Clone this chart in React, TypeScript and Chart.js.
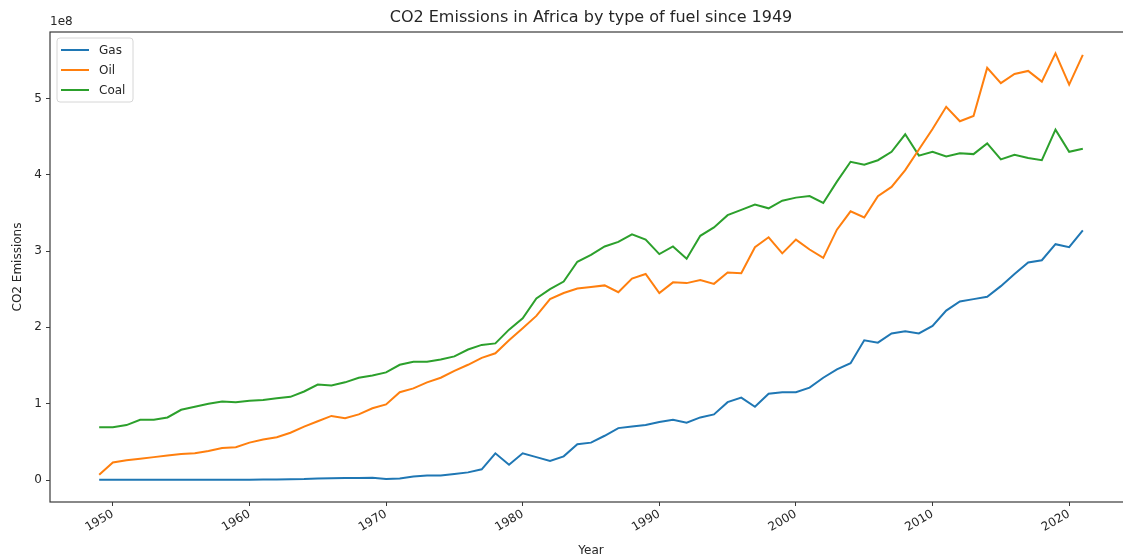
import React, { useEffect, useRef } from 'react';
import { Chart, registerables } from 'chart.js';

Chart.register(...registerables);

const years = [
  1949, 1950, 1951, 1952, 1953, 1954, 1955, 1956, 1957, 1958, 1959, 1960,
  1961, 1962, 1963, 1964, 1965, 1966, 1967, 1968, 1969, 1970,
  1971, 1972, 1973, 1974, 1975, 1976, 1977, 1978, 1979, 1980,
  1981, 1982, 1983, 1984, 1985, 1986, 1987, 1988, 1989, 1990,
  1991, 1992, 1993, 1994, 1995, 1996, 1997, 1998, 1999, 2000,
  2001, 2002, 2003, 2004, 2005, 2006, 2007, 2008, 2009, 2010,
  2011, 2012, 2013, 2014, 2015, 2016, 2017, 2018, 2019, 2020, 2021,
];

// values in units of 1e8
const gas = [
  0.003, 0.003, 0.003, 0.003, 0.003, 0.004, 0.004, 0.004, 0.004, 0.004, 0.005, 0.005,
  0.007, 0.008, 0.01, 0.013, 0.02, 0.023, 0.025, 0.026, 0.03, 0.012,
  0.02, 0.045, 0.058, 0.06, 0.08, 0.1, 0.14, 0.35, 0.2, 0.35,
  0.3, 0.25, 0.31, 0.47, 0.49, 0.58, 0.68, 0.7, 0.72, 0.76,
  0.79, 0.75, 0.82, 0.86, 1.02, 1.08, 0.96, 1.13, 1.15, 1.15,
  1.21, 1.34, 1.45, 1.53, 1.83, 1.8, 1.92, 1.95, 1.92, 2.02,
  2.22, 2.34, 2.37, 2.4, 2.54, 2.7, 2.85, 2.88, 3.09, 3.05, 3.27,
];

const oil = [
  0.07, 0.23, 0.26, 0.28, 0.3, 0.32, 0.34, 0.35, 0.38, 0.42, 0.43, 0.49,
  0.53, 0.56, 0.62, 0.7, 0.77, 0.84, 0.81, 0.86, 0.94, 0.99,
  1.15, 1.2, 1.28, 1.34, 1.43, 1.51, 1.6, 1.66, 1.83, 1.99,
  2.15, 2.37, 2.45, 2.51, 2.53, 2.55, 2.46, 2.64, 2.7, 2.45,
  2.59, 2.58, 2.62, 2.57, 2.72, 2.71, 3.05, 3.18, 2.97, 3.15,
  3.02, 2.91, 3.28, 3.52, 3.44, 3.72, 3.84, 4.06, 4.33, 4.6,
  4.89, 4.7, 4.77, 5.4, 5.2, 5.32, 5.36, 5.22, 5.59, 5.18, 5.57,
];

const coal = [
  0.69, 0.69, 0.72, 0.79, 0.79, 0.82, 0.92, 0.96, 1.0, 1.03, 1.02, 1.04,
  1.05, 1.07, 1.09, 1.16, 1.25, 1.24, 1.28, 1.34, 1.37, 1.41,
  1.51, 1.55, 1.55, 1.58, 1.62, 1.71, 1.77, 1.79, 1.97, 2.12,
  2.38, 2.5, 2.6, 2.86, 2.95, 3.06, 3.12, 3.22, 3.15, 2.96,
  3.06, 2.9, 3.2, 3.31, 3.47, 3.54, 3.61, 3.56, 3.66, 3.7,
  3.72, 3.63, 3.91, 4.17, 4.13, 4.19, 4.3, 4.53, 4.25, 4.3,
  4.24, 4.28, 4.27, 4.41, 4.2, 4.26, 4.22, 4.19, 4.59, 4.3, 4.34,
];

const seriesNames = ['Gas', 'Oil', 'Coal'];
const seriesColors = ['#1f77b4', '#ff7f0e', '#2ca02c'];
const xTickValues = [1950, 1960, 1970, 1980, 1990, 2000, 2010, 2020];
const yTickValues = [0, 1, 2, 3, 4, 5];
const chartTitle = 'CO2 Emissions in Africa by type of fuel since 1949';

const TEXT = '#262626';
const SPINE = '#3a3a3a';
const FONT = "'DejaVu Sans', sans-serif";

const framePlugin = {
  id: 'frameAndLegend',
  afterDraw(chart: any) {
    const { ctx, chartArea } = chart;
    const { left, top, right, bottom } = chartArea;
    ctx.save();
    ctx.strokeStyle = SPINE;
    ctx.lineWidth = 1.2;
    ctx.strokeRect(left, top, right - left, bottom - top);

    // title, centred over the axes
    ctx.fillStyle = TEXT;
    ctx.font = `16px ${FONT}`;
    ctx.textAlign = 'center';
    ctx.textBaseline = 'middle';
    ctx.fillText(chartTitle, (left + right) / 2, 18);

    // offset text
    ctx.font = `12px ${FONT}`;
    ctx.textAlign = 'left';
    ctx.textBaseline = 'bottom';
    ctx.fillText('1e8', left, top - 4);

    // legend
    const bx = left + 7;
    const by = top + 6;
    const bw = 76;
    const bh = 64;
    const r = 3;
    ctx.beginPath();
    ctx.moveTo(bx + r, by);
    ctx.lineTo(bx + bw - r, by);
    ctx.quadraticCurveTo(bx + bw, by, bx + bw, by + r);
    ctx.lineTo(bx + bw, by + bh - r);
    ctx.quadraticCurveTo(bx + bw, by + bh, bx + bw - r, by + bh);
    ctx.lineTo(bx + r, by + bh);
    ctx.quadraticCurveTo(bx, by + bh, bx, by + bh - r);
    ctx.lineTo(bx, by + r);
    ctx.quadraticCurveTo(bx, by, bx + r, by);
    ctx.closePath();
    ctx.fillStyle = 'rgba(255,255,255,0.8)';
    ctx.fill();
    ctx.strokeStyle = '#d6d6d6';
    ctx.lineWidth = 1;
    ctx.stroke();

    chart.data.datasets.forEach((ds: any, i: number) => {
      const yy = by + 12 + i * 20;
      ctx.strokeStyle = ds.borderColor;
      ctx.lineWidth = 2;
      ctx.beginPath();
      ctx.moveTo(bx + 4, yy);
      ctx.lineTo(bx + 32, yy);
      ctx.stroke();
      ctx.fillStyle = TEXT;
      ctx.font = `12px ${FONT}`;
      ctx.textAlign = 'left';
      ctx.textBaseline = 'middle';
      ctx.fillText(ds.label, bx + 42, yy + 1);
    });
    ctx.restore();
  },
};

export default function App() {
  const canvasRef = useRef<HTMLCanvasElement | null>(null);

  useEffect(() => {
    document.body.style.margin = '0';
    document.body.style.overflow = 'hidden';
    const canvas = canvasRef.current;
    if (!canvas) return;
    const seriesValues = [gas, oil, coal];
    const chart = new Chart(canvas, {
      type: 'line',
      data: {
        datasets: seriesNames.map((name, i) => ({
          label: name,
          data: years.map((yr, j) => ({ x: yr, y: seriesValues[i][j] })),
          borderColor: seriesColors[i],
          backgroundColor: seriesColors[i],
          borderWidth: 2,
          pointRadius: 0,
          tension: 0,
          fill: false,
        })),
      },
      options: {
        animation: false,
        responsive: true,
        maintainAspectRatio: false,
        layout: { padding: { left: 0, right: 2, top: 32, bottom: 0 } },
        plugins: {
          legend: { display: false },
          tooltip: { enabled: false },
          title: { display: false },
        },
        scales: {
          x: {
            type: 'linear',
            min: 1945.4,
            max: 2024.6,
            afterBuildTicks: (scale: any) => {
              scale.ticks = xTickValues.map((v) => ({ value: v }));
            },
            afterFit: (scale: any) => {
              scale.height = 57;
            },
            grid: {
              display: true,
              drawOnChartArea: false,
              drawTicks: true,
              tickLength: 4,
              color: SPINE,
            },
            border: { display: false },
            ticks: {
              color: TEXT,
              font: { family: FONT, size: 12 },
              minRotation: 30,
              maxRotation: 30,
              padding: 1,
              autoSkip: false,
              callback: (v: any) => String(v),
            },
            title: {
              display: true,
              text: 'Year',
              color: TEXT,
              font: { family: FONT, size: 12 },
              padding: { top: 1, bottom: 1 },
            },
          },
          y: {
            type: 'linear',
            min: -0.288,
            max: 5.87,
            afterBuildTicks: (scale: any) => {
              scale.ticks = yTickValues.map((v) => ({ value: v }));
            },
            afterFit: (scale: any) => {
              scale.width = 50;
            },
            grid: {
              display: true,
              drawOnChartArea: false,
              drawTicks: true,
              tickLength: 4,
              color: SPINE,
            },
            border: { display: false },
            ticks: {
              color: TEXT,
              font: { family: FONT, size: 12 },
              padding: 4,
              callback: (v: any) => String(v),
            },
            title: {
              display: true,
              text: 'CO2 Emissions',
              color: TEXT,
              font: { family: FONT, size: 12 },
              padding: { top: 11, bottom: 11 },
            },
          },
        },
      },
      plugins: [framePlugin],
    });
    return () => chart.destroy();
  }, []);

  return (
    <div
      style={{
        position: 'absolute',
        left: 0,
        top: 0,
        width: 1123,
        height: 559,
        overflow: 'hidden',
        background: '#fff',
      }}
    >
      <div style={{ position: 'relative', width: 1134, height: 559 }}>
        <canvas ref={canvasRef} />
      </div>
    </div>
  );
}
